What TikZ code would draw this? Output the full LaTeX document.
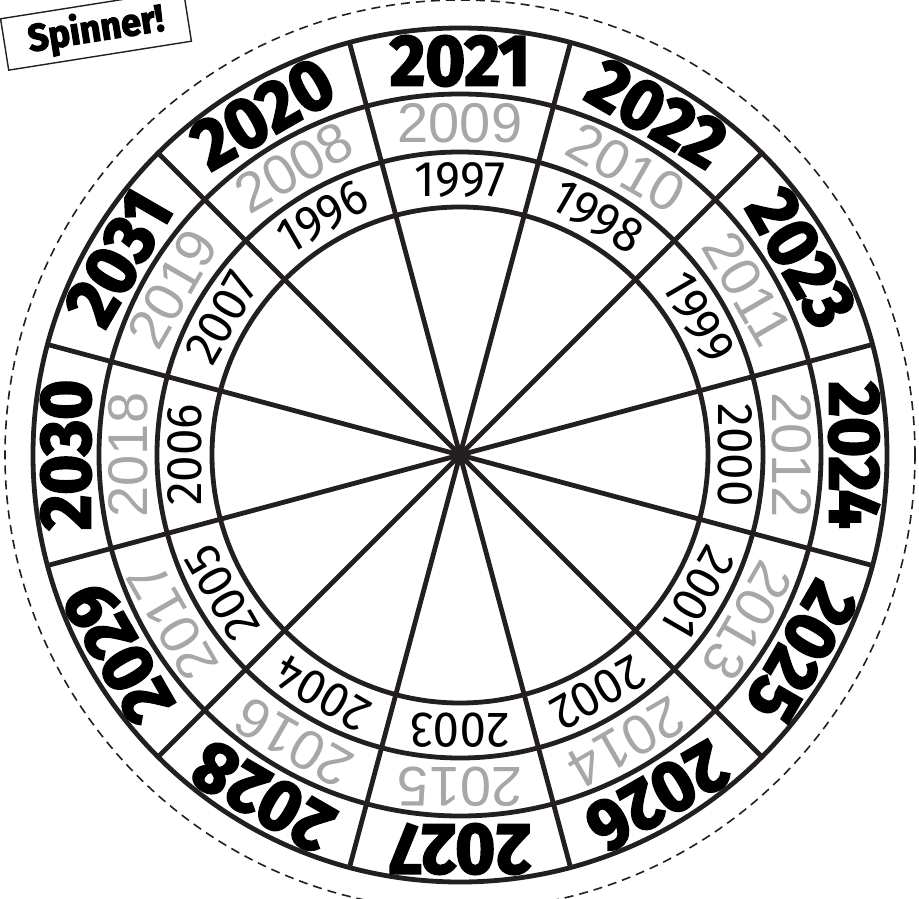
\documentclass[tikz,border=0pt]{standalone}
\usepackage{fontspec}
\usetikzlibrary{calc}
\newfontfamily\heavyfont{Fira Sans}[FakeStretch=0.95, BoldFeatures={FakeBold=3}]
\newfontfamily\greyfont{Liberation Sans}
\newfontfamily\innerfont{Fira Sans}[FakeStretch=0.95]
\definecolor{inkdark}{HTML}{231F20}
\definecolor{ringgrey}{HTML}{A7A7A7}

\begin{document}
\begin{tikzpicture}[
  x=1pt, y=1pt,
  ringline/.style={draw=inkdark, line width=4.8pt},
  cutline/.style={draw=inkdark, line width=1.6pt, dash pattern=on 9pt off 6pt},
  outeryr/.style={font=\heavyfont\bfseries\fontsize{72}{72}\selectfont,
    text=black, rotate=#1, inner sep=0pt},
  greyyr/.style={font=\greyfont\fontsize{56}{56}\selectfont,
    text=ringgrey, rotate=#1, inner sep=0pt},
  inneryr/.style={font=\innerfont\fontsize{50}{50}\selectfont,
    text=black, rotate=#1, inner sep=0pt},
  tagbox/.style={draw=inkdark, line width=1.4pt, fill=white,
    minimum width=185pt, minimum height=52pt, inner sep=0pt,
    font=\heavyfont\bfseries\fontsize{38}{38}\selectfont},
]

\useasboundingbox (-460,-443) rectangle (459,455);

% Cutting line
\draw[cutline] (0,0) circle (455);

% =============================================
% Rings and spokes
% =============================================
\coordinate (hub) at (0,0);
\draw[ringline] (hub) circle (427);
\draw[ringline] (hub) circle (361);
\draw[ringline] (hub) circle (303);
\draw[ringline] (hub) circle (248);

\draw[ringline] (195:427) -- (15:427);
\draw[ringline] (225:427) -- (45:427);
\draw[ringline] (255:427) -- (75:427);
\draw[ringline] (285:427) -- (105:427);
\draw[ringline] (315:427) -- (135:427);
\draw[ringline] (345:427) -- (165:427);
\fill[inkdark] (hub) circle (6);

% =============================================
% Outer ring
% =============================================
\node[outeryr=0] (y2021) at (90:394) {2021};
\node[outeryr=-30] (y2022) at (60:394) {2022};
\node[outeryr=-60] (y2023) at (30:394) {2023};
\node[outeryr=-90] (y2024) at (0:394) {2024};
\node[outeryr=-120] (y2025) at (-30:394) {2025};
\node[outeryr=-150] (y2026) at (-60:394) {2026};
\node[outeryr=180] (y2027) at (-90:394) {2027};
\node[outeryr=150] (y2028) at (-120:394) {2028};
\node[outeryr=120] (y2029) at (-150:394) {2029};
\node[outeryr=90] (y2030) at (180:394) {2030};
\node[outeryr=60] (y2031) at (150:394) {2031};
\node[outeryr=30] (y2020) at (120:394) {2020};

% =============================================
% Middle ring (grey)
% =============================================
\node[greyyr=0] (y2009) at (90:332) {2009};
\node[greyyr=-30] (y2010) at (60:332) {2010};
\node[greyyr=-60] (y2011) at (30:332) {2011};
\node[greyyr=-90] (y2012) at (0:332) {2012};
\node[greyyr=-120] (y2013) at (-30:332) {2013};
\node[greyyr=-150] (y2014) at (-60:332) {2014};
\node[greyyr=180] (y2015) at (-90:332) {2015};
\node[greyyr=150] (y2016) at (-120:332) {2016};
\node[greyyr=120] (y2017) at (-150:332) {2017};
\node[greyyr=90] (y2018) at (180:332) {2018};
\node[greyyr=60] (y2019) at (150:332) {2019};
\node[greyyr=30] (y2008) at (120:332) {2008};

% =============================================
% Inner ring
% =============================================
\node[inneryr=0] (y1997) at (90:275) {1997};
\node[inneryr=-30] (y1998) at (60:275) {1998};
\node[inneryr=-60] (y1999) at (30:275) {1999};
\node[inneryr=-90] (y2000) at (0:275) {2000};
\node[inneryr=-120] (y2001) at (-30:275) {2001};
\node[inneryr=-150] (y2002) at (-60:275) {2002};
\node[inneryr=180] (y2003) at (-90:275) {2003};
\node[inneryr=150] (y2004) at (-120:275) {2004};
\node[inneryr=120] (y2005) at (-150:275) {2005};
\node[inneryr=90] (y2006) at (180:275) {2006};
\node[inneryr=60] (y2007) at (150:275) {2007};
\node[inneryr=30] (y1996) at (120:275) {1996};

% Title tag
\node[tagbox, rotate=9] (spinner) at (-364,425) {Spinner!};

\end{tikzpicture}
\end{document}
